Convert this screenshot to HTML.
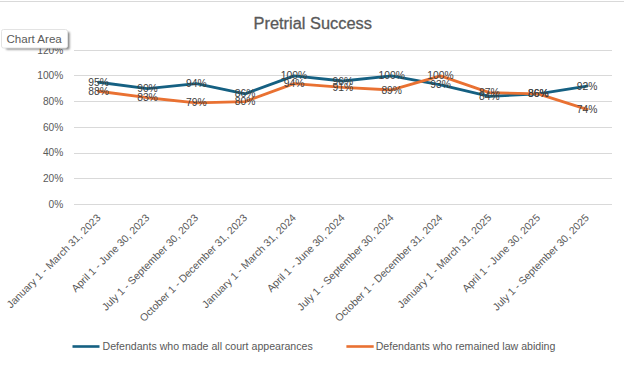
<!DOCTYPE html>
<html><head><meta charset="utf-8"><style>
html,body{margin:0;padding:0;background:#fff;width:624px;height:365px;overflow:hidden}
svg{display:block;font-family:"Liberation Sans", sans-serif}
</style></head><body>
<svg width="624" height="365" viewBox="0 0 624 365">
<defs><filter id="blur" x="-20%" y="-40%" width="140%" height="180%"><feGaussianBlur stdDeviation="0.9"/></filter></defs>
<rect x="0" y="1" width="624" height="1" fill="#d9d9d9"/>
<rect x="74" y="204" width="538" height="1" fill="#d9d9d9"/>
<rect x="74" y="178" width="538" height="1" fill="#d9d9d9"/>
<rect x="74" y="153" width="538" height="1" fill="#d9d9d9"/>
<rect x="74" y="127" width="538" height="1" fill="#d9d9d9"/>
<rect x="74" y="101" width="538" height="1" fill="#d9d9d9"/>
<rect x="74" y="75" width="538" height="1" fill="#d9d9d9"/>
<rect x="74" y="50" width="538" height="1" fill="#d9d9d9"/>
<text x="63.3" y="207.90" text-anchor="end" font-size="10.2" fill="#595959">0%</text>
<text x="63.3" y="182.17" text-anchor="end" font-size="10.2" fill="#595959">20%</text>
<text x="63.3" y="156.43" text-anchor="end" font-size="10.2" fill="#595959">40%</text>
<text x="63.3" y="130.70" text-anchor="end" font-size="10.2" fill="#595959">60%</text>
<text x="63.3" y="104.97" text-anchor="end" font-size="10.2" fill="#595959">80%</text>
<text x="63.3" y="79.24" text-anchor="end" font-size="10.2" fill="#595959">100%</text>
<text x="63.3" y="53.50" text-anchor="end" font-size="10.2" fill="#595959">120%</text>
<text x="101.22" y="218.5" text-anchor="end" font-size="10.45" fill="#595959" transform="rotate(-45 101.22 218.5)">January 1 - March 31, 2023</text>
<text x="150.07" y="218.5" text-anchor="end" font-size="10.45" fill="#595959" transform="rotate(-45 150.07 218.5)">April 1 - June 30, 2023</text>
<text x="198.91" y="218.5" text-anchor="end" font-size="10.45" fill="#595959" transform="rotate(-45 198.91 218.5)">July 1 - September 30, 2023</text>
<text x="247.76" y="218.5" text-anchor="end" font-size="10.45" fill="#595959" transform="rotate(-45 247.76 218.5)">October 1 - December 31, 2023</text>
<text x="296.60" y="218.5" text-anchor="end" font-size="10.45" fill="#595959" transform="rotate(-45 296.60 218.5)">January 1 - March 31, 2024</text>
<text x="345.45" y="218.5" text-anchor="end" font-size="10.45" fill="#595959" transform="rotate(-45 345.45 218.5)">April 1 - June 30, 2024</text>
<text x="394.30" y="218.5" text-anchor="end" font-size="10.45" fill="#595959" transform="rotate(-45 394.30 218.5)">July 1 - September 30, 2024</text>
<text x="443.14" y="218.5" text-anchor="end" font-size="10.45" fill="#595959" transform="rotate(-45 443.14 218.5)">October 1 - December 31, 2024</text>
<text x="491.99" y="218.5" text-anchor="end" font-size="10.45" fill="#595959" transform="rotate(-45 491.99 218.5)">January 1 - March 31, 2025</text>
<text x="540.83" y="218.5" text-anchor="end" font-size="10.45" fill="#595959" transform="rotate(-45 540.83 218.5)">April 1 - June 30, 2025</text>
<text x="589.68" y="218.5" text-anchor="end" font-size="10.45" fill="#595959" transform="rotate(-45 589.68 218.5)">July 1 - September 30, 2025</text>
<polyline points="98.62,82.27 147.47,88.70 196.31,83.55 245.16,93.85 294.00,75.84 342.85,80.98 391.70,75.84 440.54,84.84 489.39,96.42 538.23,93.85 587.08,86.13" fill="none" stroke="#156082" stroke-width="2.85" stroke-linejoin="round" stroke-linecap="round"/>
<polyline points="98.62,91.27 147.47,97.71 196.31,102.85 245.16,101.57 294.00,83.55 342.85,87.41 391.70,89.99 440.54,75.84 489.39,92.56 538.23,93.85 587.08,109.29" fill="none" stroke="#E97132" stroke-width="2.85" stroke-linejoin="round" stroke-linecap="round"/>
<text x="98.62" y="85.87" text-anchor="middle" font-size="10.3" fill="#404040">95%</text>
<text x="147.47" y="92.30" text-anchor="middle" font-size="10.3" fill="#404040">90%</text>
<text x="196.31" y="87.15" text-anchor="middle" font-size="10.3" fill="#404040">94%</text>
<text x="245.16" y="97.45" text-anchor="middle" font-size="10.3" fill="#404040">86%</text>
<text x="294.00" y="79.44" text-anchor="middle" font-size="10.3" fill="#404040">100%</text>
<text x="342.85" y="84.58" text-anchor="middle" font-size="10.3" fill="#404040">96%</text>
<text x="391.70" y="79.44" text-anchor="middle" font-size="10.3" fill="#404040">100%</text>
<text x="440.54" y="88.44" text-anchor="middle" font-size="10.3" fill="#404040">93%</text>
<text x="489.39" y="100.02" text-anchor="middle" font-size="10.3" fill="#404040">84%</text>
<text x="538.23" y="97.45" text-anchor="middle" font-size="10.3" fill="#404040">86%</text>
<text x="587.08" y="89.73" text-anchor="middle" font-size="10.3" fill="#404040">92%</text>
<text x="98.62" y="94.87" text-anchor="middle" font-size="10.3" fill="#404040">88%</text>
<text x="147.47" y="101.31" text-anchor="middle" font-size="10.3" fill="#404040">83%</text>
<text x="196.31" y="106.45" text-anchor="middle" font-size="10.3" fill="#404040">79%</text>
<text x="245.16" y="105.17" text-anchor="middle" font-size="10.3" fill="#404040">80%</text>
<text x="294.00" y="87.15" text-anchor="middle" font-size="10.3" fill="#404040">94%</text>
<text x="342.85" y="91.01" text-anchor="middle" font-size="10.3" fill="#404040">91%</text>
<text x="391.70" y="93.59" text-anchor="middle" font-size="10.3" fill="#404040">89%</text>
<text x="440.54" y="79.44" text-anchor="middle" font-size="10.3" fill="#404040">100%</text>
<text x="489.39" y="96.16" text-anchor="middle" font-size="10.3" fill="#404040">87%</text>
<text x="538.23" y="97.45" text-anchor="middle" font-size="10.3" fill="#404040">86%</text>
<text x="587.08" y="112.89" text-anchor="middle" font-size="10.3" fill="#404040">74%</text>
<text x="312.7" y="0" transform="translate(0 28.6) scale(1 0.95)" text-anchor="middle" font-size="16.4" fill="#595959" stroke="#595959" stroke-width="0.3">Pretrial Success</text>
<rect x="72.5" y="345.2" width="27" height="2.6" fill="#156082"/>
<text x="102.5" y="349.7" font-size="10.6" fill="#595959">Defendants who made all court appearances</text>
<rect x="346.4" y="345.2" width="27.3" height="2.6" fill="#E97132"/>
<text x="375.7" y="349.7" font-size="10.6" fill="#595959">Defendants who remained law abiding</text>
<rect x="6" y="32" width="63.5" height="17.5" rx="1" fill="#000" opacity="0.5" filter="url(#blur)"/>
<rect x="1.5" y="29.5" width="66" height="18.5" rx="2" fill="#fff" stroke="#e3e3e3" stroke-width="1"/>
<text x="6.4" y="43" font-size="11.6" fill="#5a5a5a">Chart Area</text>
</svg>
</body></html>
